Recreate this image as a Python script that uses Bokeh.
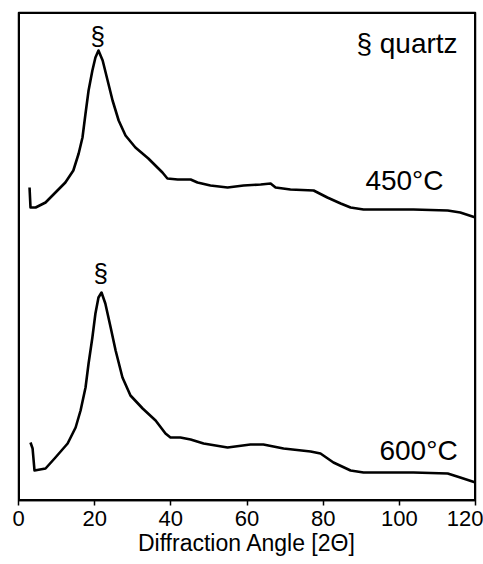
from bokeh.plotting import figure
from bokeh.models import Range1d, FixedTicker
from bokeh.embed import file_html
from bokeh.resources import INLINE
from bokeh.core.properties import value

# 450 °C pattern (arbitrary intensity units)
two_theta_450 = [2.9, 3.15, 4.5, 7.1, 9.7, 12.3, 14.4, 15.8, 16.8, 17.6, 18.4, 19.4, 20.2, 21.0,
                 22.1, 23.4, 24.7, 26.3, 28.1, 30.7, 34.1, 37.8, 39.1, 41.8, 45.2, 47.0, 50.4,
                 54.9, 59.1, 63.6, 66.2, 67.5, 71.4, 77.5, 81.1, 84.6, 87.2, 90.6, 103.7, 112.7,
                 116.0, 120.0]
intensity_450 = [313, 293, 293, 298, 308, 318, 330, 347, 363, 387, 410, 430, 443, 450,
                 440, 420, 400, 380, 365, 353, 342, 328, 322, 321, 321, 318, 315,
                 313, 315, 316, 317, 313, 311, 310, 303, 297, 293, 291, 291, 290,
                 288, 283]

# 600 °C pattern
two_theta_600 = [3.15, 3.7, 4.2, 7.1, 9.7, 12.9, 15.0, 16.3, 17.6, 18.4, 19.4, 20.2, 21.0, 21.8,
                 22.8, 24.2, 25.5, 27.3, 29.4, 32.6, 36.0, 38.6, 39.9, 42.5, 45.2, 48.6, 54.9,
                 60.9, 64.3, 69.6, 76.7, 79.3, 82.7, 87.2, 90.6, 103.7, 112.7, 116.0, 120.0]
intensity_600 = [58, 52, 30, 32, 43, 57, 73, 90, 113, 137, 163, 187, 203, 208,
                 197, 173, 150, 123, 105, 92, 80, 67, 63, 63, 61, 57, 53,
                 56, 56, 52, 49, 47, 38, 30, 28, 28, 27, 23, 18]

x_ticks = [0, 20, 40, 60, 80, 100, 120]
x_min, x_max = 0, 120
y_min, y_max = 0, 488

# annotations
peak_marks_x = [20.8, 21.6]
peak_marks_y = [465, 228]
curve_labels = ["450°C", "600°C"]
curve_label_x = [111.6, 115.3]
curve_label_y = [320, 50]

FONT = "Liberation Sans"

p = figure(width=483, height=564, output_backend="svg", toolbar_location=None,
           x_range=Range1d(x_min, x_max), y_range=Range1d(y_min, y_max),
           min_border_left=18, min_border_right=8, min_border_top=12, min_border_bottom=64)
p.grid.visible = False
p.yaxis.visible = False
p.outline_line_color = "black"
p.outline_line_width = 1.5
p.background_fill_color = "white"
p.border_fill_color = "white"

# frame box drawn as a glyph so all four sides show
p.quad(left=[x_min], right=[x_max], bottom=[y_min], top=[y_max],
       fill_alpha=0, line_color="black", line_width=3)

ax = p.below[0]
ax.ticker = FixedTicker(ticks=x_ticks)
ax.minor_tick_line_color = None
ax.major_tick_in = 0
ax.major_tick_out = 5
ax.major_tick_line_width = 1.5
ax.axis_line_width = 1.5
ax.major_label_text_font = FONT
ax.major_label_text_font_size = "22px"
ax.major_label_text_color = "black"
ax.major_label_standoff = 5
ax.axis_label = "Diffraction Angle [2Θ]"
ax.axis_label_text_font = FONT
ax.axis_label_text_font_size = "23px"
ax.axis_label_text_font_style = "normal"
ax.axis_label_text_color = "black"
ax.axis_label_standoff = 1

p.line(two_theta_450, intensity_450, line_color="black", line_width=2.6, line_join="round")
p.line(two_theta_600, intensity_600, line_color="black", line_width=2.6, line_join="round")

p.text(x=peak_marks_x, y=peak_marks_y, text=["§", "§"], text_font=value(FONT),
       text_font_size="26px", text_align="center", text_baseline="middle", text_color="black")
p.text(x=curve_label_x, y=curve_label_y, text=curve_labels, text_font=value(FONT),
       text_font_size="28px", text_align="right", text_baseline="middle", text_color="black")
p.text(x=[115.3], y=[457], text=["§ quartz"], text_font=value(FONT),
       text_font_size="28px", text_align="right", text_baseline="middle", text_color="black")

open("out.html", "w").write(file_html(p, INLINE))
